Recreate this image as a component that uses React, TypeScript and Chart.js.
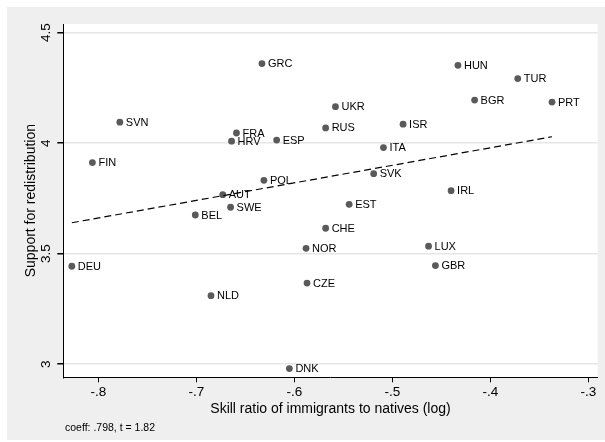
import React, { useEffect, useRef } from "react";
import { Chart, registerables } from "chart.js";

Chart.register(...registerables);

const countries = ["GRC", "HUN", "TUR", "BGR", "PRT", "UKR", "SVN", "ISR", "RUS", "FRA", "HRV", "ESP", "ITA", "FIN", "SVK", "POL", "IRL", "AUT", "EST", "SWE", "BEL", "CHE", "NOR", "LUX", "DEU", "GBR", "CZE", "NLD", "DNK"];
const skillRatio = [-0.633, -0.433, -0.372, -0.416, -0.337, -0.558, -0.778, -0.489, -0.568, -0.659, -0.664, -0.618, -0.509, -0.806, -0.519, -0.631, -0.440, -0.673, -0.544, -0.665, -0.701, -0.568, -0.588, -0.463, -0.827, -0.456, -0.587, -0.685, -0.605];
const support = [4.360, 4.352, 4.292, 4.195, 4.186, 4.165, 4.095, 4.086, 4.069, 4.046, 4.009, 4.014, 3.980, 3.912, 3.862, 3.832, 3.785, 3.767, 3.723, 3.710, 3.675, 3.615, 3.524, 3.534, 3.443, 3.446, 3.367, 3.310, 2.980];
const fitX = [-0.827, -0.337];
const fitY = [3.640, 4.029];
const xTicks = [-0.8, -0.7, -0.6, -0.5, -0.4, -0.3];
const yTicks = [3, 3.5, 4, 4.5];
const xTitle = "Skill ratio of immigrants to natives (log)";
const yTitle = "Support for redistribution";
const note = "coeff: .798, t = 1.82";

const FONT = "'Liberation Sans', Arial, sans-serif";
const BG = "#efefef";

function fmt(v: number): string {
  const s = String(Math.abs(v)).replace(/^0\./, ".");
  return (v < 0 ? "-" : "") + s;
}

const deco = {
  id: "deco",
  beforeDraw(chart: any) {
    const { ctx, chartArea: a, width, height } = chart;
    ctx.save();
    ctx.fillStyle = "#ffffff";
    ctx.fillRect(0, 0, width, height);
    ctx.fillStyle = BG;
    ctx.fillRect(7, 7, width - 7, 433);
    ctx.fillStyle = "#ffffff";
    ctx.fillRect(a.left, a.top, a.right - a.left, a.bottom - a.top);
    ctx.restore();
  },
  afterDraw(chart: any) {
    const { ctx, chartArea: a, scales } = chart;
    ctx.save();
    ctx.fillStyle = "#000";
    // point labels
    ctx.font = `11px ${FONT}`;
    ctx.textAlign = "left";
    ctx.textBaseline = "middle";
    const meta = chart.getDatasetMeta(1);
    meta.data.forEach((pt: any, i: number) => {
      ctx.fillText(countries[i], pt.x + 6, pt.y + 0.5);
    });
    // x tick labels
    ctx.font = `13.5px ${FONT}`;
    ctx.textAlign = "center";
    xTicks.forEach((v) => {
      ctx.fillText(fmt(v), scales.x.getPixelForValue(v), 392.5);
    });
    // y tick labels rotated
    yTicks.forEach((v) => {
      ctx.save();
      ctx.translate(46.5, scales.y.getPixelForValue(v));
      ctx.rotate(-Math.PI / 2);
      ctx.fillText(fmt(v), 0, 0);
      ctx.restore();
    });
    // titles
    ctx.font = `14px ${FONT}`;
    ctx.fillText(xTitle, (a.left + a.right) / 2, 409);
    ctx.save();
    ctx.translate(31.5, (a.top + a.bottom) / 2);
    ctx.rotate(-Math.PI / 2);
    ctx.fillText(yTitle, 0, 0);
    ctx.restore();
    // note
    ctx.font = `10.5px ${FONT}`;
    ctx.textAlign = "left";
    ctx.fillText(note, 65, 428);
    ctx.restore();
  },
};

export default function App() {
  const ref = useRef<HTMLCanvasElement | null>(null);
  useEffect(() => {
    if (!ref.current) return;
    const chart = new Chart(ref.current, {
      type: "scatter",
      data: {
        datasets: [
          {
            type: "line",
            data: fitX.map((x, i) => ({ x, y: fitY[i] })),
            borderColor: "#000",
            borderWidth: 1.2,
            borderDash: [7, 4],
            pointRadius: 0,
            fill: false,
            showLine: true,
          } as any,
          {
            data: skillRatio.map((x, i) => ({ x, y: support[i] })),
            backgroundColor: "#5a5a5a",
            borderColor: "#5a5a5a",
            borderWidth: 0,
            pointRadius: 3.4,
          },
        ],
      },
      options: {
        animation: false,
        responsive: false,
        devicePixelRatio: 1,
        layout: { padding: { left: 0, right: 7.3, top: 24, bottom: 0 } },
        plugins: { legend: { display: false }, tooltip: { enabled: false } },
        scales: {
          x: {
            type: "linear",
            min: -0.8357,
            max: -0.2904,
            afterBuildTicks: (s: any) => {
              s.ticks = xTicks.map((v) => ({ value: v }));
            },
            afterFit: (s: any) => {
              s.height = 442 - 377.3;
            },
            grid: { drawOnChartArea: false, drawTicks: true, tickLength: 5, tickColor: "#000", color: "#000" },
            border: { display: true, color: "#000", width: 1 },
            ticks: { display: false },
          },
          y: {
            type: "linear",
            min: 2.9407,
            max: 4.539,
            afterBuildTicks: (s: any) => {
              s.ticks = yTicks.map((v) => ({ value: v }));
            },
            afterFit: (s: any) => {
              s.width = 63.3;
            },
            grid: { color: "#e6e6e6", lineWidth: 1.5, drawTicks: true, tickLength: 6, tickColor: "#000" },
            border: { display: true, color: "#000", width: 1 },
            ticks: { display: false },
          },
        },
      },
      plugins: [deco],
    });
    return () => chart.destroy();
  }, []);
  return (
    <div style={{ position: "fixed", left: 0, top: 0, width: 605, height: 442 }}>
      <canvas ref={ref} width={605} height={442} style={{ width: 605, height: 442, display: "block" }} />
    </div>
  );
}
